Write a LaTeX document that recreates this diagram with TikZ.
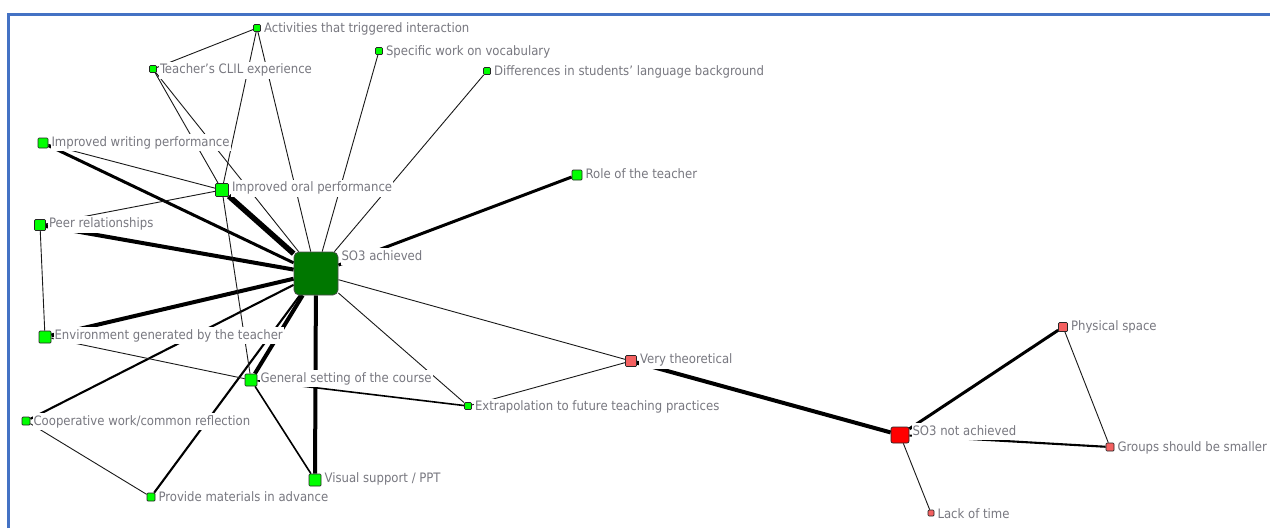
\documentclass[tikz,border=0pt]{standalone}
\usepackage{fontspec}
\setmainfont{DejaVu Sans Condensed}
\usetikzlibrary{calc}

\definecolor{frameblue}{RGB}{68,114,196}
\definecolor{nodegreen}{RGB}{0,255,0}
\definecolor{hubgreen}{RGB}{0,119,0}
\definecolor{hubred}{RGB}{255,0,0}
\definecolor{softred}{RGB}{244,96,96}
\definecolor{labelgray}{RGB}{120,120,128}

\pgfdeclarelayer{bg}
\pgfdeclarelayer{edges}
\pgfdeclarelayer{labels}
\pgfsetlayers{bg,edges,labels,main}

\tikzset{
  vtx/.style={draw=black!85, fill=nodegreen, rounded corners=1pt, inner sep=0pt,
              line width=0.7pt, minimum size=#1},
  vtxr/.style={vtx=#1, fill=softred},
  hub/.style={draw=black!70, fill=hubgreen, rounded corners=5pt, inner sep=0pt,
              line width=0.7pt, minimum width=44pt, minimum height=43pt},
  hubr/.style={vtx=16, fill=hubred, minimum width=18pt, rounded corners=2pt},
  lbl/.style={anchor=west, fill=white, inner xsep=1pt, inner ysep=2.2pt,
              text height=9.5pt, text depth=2.8pt, text=labelgray,
              font=\fontsize{13pt}{15pt}\selectfont},
  ethin/.style={draw=black!90, line width=0.9pt},
  emid/.style={draw=black, line width=1.6pt},
  etwo/.style={draw=black, line width=2.1pt},
  ethree/.style={draw=black, line width=3pt},
  efour/.style={draw=black, line width=4pt},
  efive/.style={draw=black, line width=5.5pt},
}

\begin{document}
\begin{tikzpicture}[x=1pt,y=-1pt]
\useasboundingbox (0,0) rectangle (1270,528);
\begin{pgfonlayer}{bg}
\fill[white] (0,0) rectangle (1270,528);
\end{pgfonlayer}

% window frame
\draw[frameblue, line width=3pt] (8,528) -- (8,14.5) -- (1270,14.5);

% vertices
\node[vtx=7]  (act)   at (257,28)    {};
\node[vtx=7]  (clil)  at (153,69)    {};
\node[vtx=7]  (voc)   at (379,51)    {};
\node[vtx=7]  (diff)  at (487,71)    {};
\node[vtx=10] (writ)  at (43,143)    {};
\node[vtx=13] (oral)  at (222,190)   {};
\node[vtx=10] (role)  at (577,175)   {};
\node[vtx=11] (peer)  at (40,225)    {};
\node[hub]    (ach)   at (316,273.5) {};
\node[vtx=12] (env)   at (45,337)    {};
\node[vtx=12] (gen)   at (251,380)   {};
\node[vtx=7]  (extr)  at (468,406)   {};
\node[vtxr=11](theo)  at (631,361)   {};
\node[vtx=8]  (coop)  at (26,421)    {};
\node[vtx=12] (ppt)   at (315,480)   {};
\node[vtx=8]  (prov)  at (151,497)   {};
\node[hubr]   (nach)  at (900,435)   {};
\node[vtxr=9] (space) at (1063,327)  {};
\node[vtxr=8] (group) at (1110,447)  {};
\node[vtxr=6] (time)  at (931,513)   {};

% labels, boxed in white so they mask the ties behind them
\begin{pgfonlayer}{labels}
\node[lbl] (act-l)   at ($(act.north east)+(2,5)$)   {Activities that triggered interaction};
\node[lbl] (clil-l)  at ($(clil.north east)+(2,5)$)  {Teacher's CLIL experience};
\node[lbl] (voc-l)   at ($(voc.north east)+(2,5)$)   {Specific work on vocabulary};
\node[lbl] (diff-l)  at ($(diff.north east)+(2,5)$)  {Differences in students' language background};
\node[lbl] (writ-l)  at ($(writ.north east)+(2,5)$)  {Improved writing performance};
\node[lbl] (oral-l)  at ($(oral.north east)+(2,5)$)  {Improved oral performance};
\node[lbl] (role-l)  at ($(role.north east)+(2,5)$)  {Role of the teacher};
\node[lbl] (peer-l)  at ($(peer.north east)+(2,5)$)  {Peer relationships};
\node[lbl] (ach-l)   at ($(ach.north east)+(2,5)$)   {SO3 achieved};
\node[lbl] (env-l)   at ($(env.north east)+(2,5)$)   {Environment generated by the teacher};
\node[lbl] (gen-l)   at ($(gen.north east)+(2,5)$)   {General setting of the course};
\node[lbl] (extr-l)  at ($(extr.north east)+(2,5)$)  {Extrapolation to future teaching practices};
\node[lbl] (theo-l)  at ($(theo.north east)+(2,5)$)  {Very theoretical};
\node[lbl] (coop-l)  at ($(coop.north east)+(2,5)$)  {Cooperative work/common reflection};
\node[lbl] (ppt-l)   at ($(ppt.north east)+(2,5)$)   {Visual support / PPT};
\node[lbl] (prov-l)  at ($(prov.north east)+(2,5)$)  {Provide materials in advance};
\node[lbl] (nach-l)  at ($(nach.north east)+(2,5)$)  {SO3 not achieved};
\node[lbl] (space-l) at ($(space.north east)+(2,5)$) {Physical space};
\node[lbl] (group-l) at ($(group.north east)+(2,5)$) {Groups should be smaller};
\node[lbl] (time-l)  at ($(time.north east)+(2,5)$)  {Lack of time};
\end{pgfonlayer}

% ties
\begin{pgfonlayer}{edges}
\draw[efive]  (ach) -- (oral);
\draw[efour]  (ach) -- (peer);
\draw[efour]  (ach) -- (env);
\draw[efour]  (ach) -- (ppt);
\draw[efour]  (ach) -- (gen);
\draw[efour]  (theo) -- (nach);
\draw[ethree] (ach) -- (writ);
\draw[ethree] (ach) -- (role);
\draw[ethree] (nach) -- (space);
\draw[etwo]   (ach) -- (prov);
\draw[etwo]   (ach) -- (coop);
\draw[etwo]   (nach) -- (group);
\draw[emid]   (gen) -- (ppt);
\draw[emid]   (gen) -- (extr);
\draw[ethin]  (ach) -- (clil);
\draw[ethin]  (ach) -- (act);
\draw[ethin]  (ach) -- (voc);
\draw[ethin]  (ach) -- (diff);
\draw[ethin]  (ach) -- (theo);
\draw[ethin]  (ach) -- (extr);
\draw[ethin]  (act) -- (clil);
\draw[ethin]  (act) -- (oral);
\draw[ethin]  (clil) -- (oral);
\draw[ethin]  (writ) -- (oral);
\draw[ethin]  (peer) -- (oral);
\draw[ethin]  (peer) -- (env);
\draw[ethin]  (env) -- (gen);
\draw[ethin]  (oral) -- (gen);
\draw[ethin]  (coop) -- (prov);
\draw[ethin]  (extr) -- (theo);
\draw[ethin]  (space) -- (group);
\draw[ethin]  (nach) -- (time);
\end{pgfonlayer}
\end{tikzpicture}
\end{document}
